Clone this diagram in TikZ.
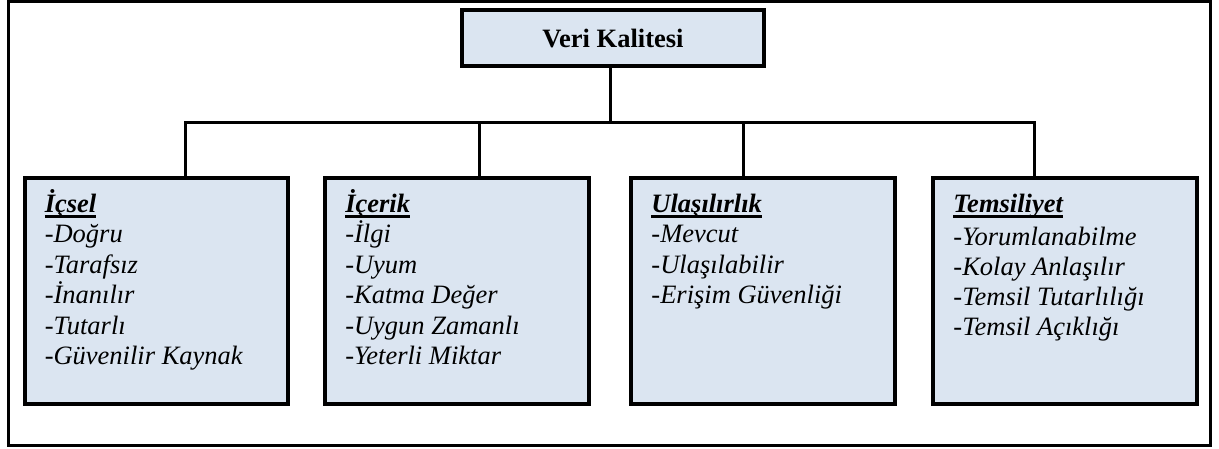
\documentclass[tikz,border=0pt]{standalone}
\usepackage{fontspec}
\setmainfont{Liberation Serif}
\definecolor{boxfill}{HTML}{DBE5F1}
\newcommand\headul[1]{\leavevmode\setbox0\hbox{\bfseries\itshape #1}\rlap{\rule[-5.5pt]{\wd0}{2.2pt}}\box0}
\begin{document}
\begin{tikzpicture}[x=1pt,y=-1pt,
  frame/.style={draw=black,line width=3pt},
  topbox/.style={draw=black,line width=4pt,fill=boxfill,minimum width=302pt,minimum height=56pt,inner sep=0pt,font=\fontsize{26.5}{30}\selectfont\bfseries},
  catbox/.style={draw=black,line width=4pt,fill=boxfill,minimum width=263.5pt,minimum height=226pt,inner sep=0pt},
  cattext/.style={anchor=base west,inner sep=0pt,font=\fontsize{26.5}{30.5}\selectfont\itshape},
  link/.style={draw=black,line width=3pt}]
\useasboundingbox (0,0) rectangle (1219,448);
\draw[frame] (8.3,1.5) rectangle (1210,445);
\node[topbox] (top) at (613,38.3) {Veri Kalitesi};
\node[catbox] (b1) at (156.3,290.7) {};
\node[catbox] (b2) at (456.8,290.7) {};
\node[catbox] (b3) at (763,290.7) {};
\node[catbox] (b4) at (1065,290.7) {};
\coordinate (jm) at (610.7,122.3);
\coordinate (j1) at (185.7,122.3);
\coordinate (j2) at (479,122.3);
\coordinate (j3) at (743,122.3);
\coordinate (j4) at (1034.5,122.3);
\draw[link] (top.south -| jm) -- (jm);
\draw[link,line cap=rect] (j1) -- (j4);
\draw[link] (j1) -- (j1 |- b1.north);
\draw[link] (j2) -- (j2 |- b2.north);
\draw[link] (j3) -- (j3 |- b3.north);
\draw[link] (j4) -- (j4 |- b4.north);
\node[cattext] (t1) at ([shift={(22,36.3)}]b1.north west) {\parbox[t]{240pt}{\lineskiplimit=-100pt\headul{İçsel}\\-Doğru\\-Tarafsız\\-İnanılır\\-Tutarlı\\-Güvenilir Kaynak}};
\node[cattext] (t2) at ([shift={(22,36.3)}]b2.north west) {\parbox[t]{240pt}{\lineskiplimit=-100pt\headul{İçerik}\\-İlgi\\-Uyum\\-Katma Değer\\-Uygun Zamanlı\\-Yeterli Miktar}};
\node[cattext] (t3) at ([shift={(22,36.3)}]b3.north west) {\parbox[t]{240pt}{\lineskiplimit=-100pt\headul{Ulaşılırlık}\\-Mevcut\\-Ulaşılabilir\\-Erişim Güvenliği}};
\node[cattext] (t4) at ([shift={(22,36.3)}]b4.north west) {\parbox[t]{240pt}{\lineskiplimit=-100pt\baselineskip=30pt\headul{Temsiliyet}\\[3pt]-Yorumlanabilme\\-Kolay Anlaşılır\\-Temsil Tutarlılığı\\-Temsil Açıklığı}};
\end{tikzpicture}
\end{document}
